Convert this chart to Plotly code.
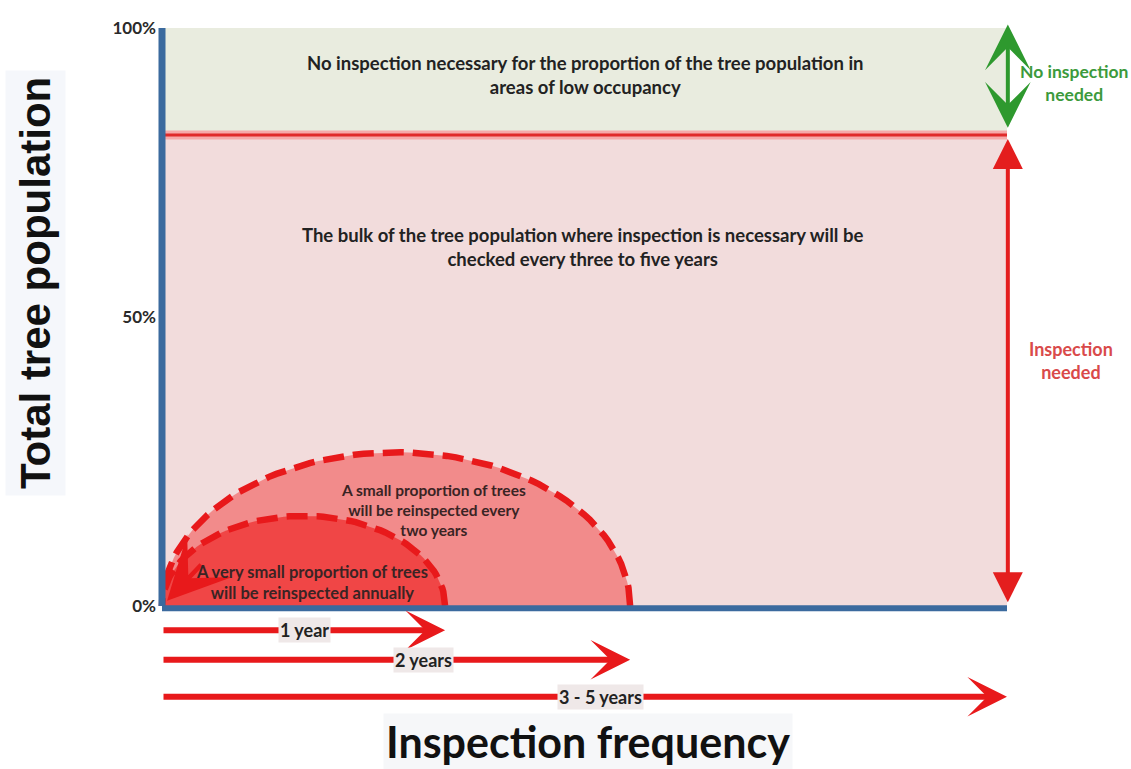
import numpy as np
import plotly.graph_objects as go

# ── Data ─────────────────────────────────────────────────────────
y_tick_vals = [0, 50, 100]
y_tick_text = ["0%", "50%", "100%"]

# share of population (%) : boundary between the two zones
no_inspection_from = 81.5
x_full = 100  # 3 - 5 years cycle end on a 0..100 frequency scale

# reinspection arcs (frequency-scale width, height in %)
arc_names = ["two years", "annually"]
arc_x_end = [55.4, 33.5]
arc_height = [26.6, 15.6]
arc_fill = ["#f28b8b", "#f04646"]

# frequency arrows under the axis
freq_labels = ["1 year", "2 years", "3 - 5 years"]
freq_end = [33.5, 55.4, 100]
freq_y = [-4.2, -9.3, -15.7]
freq_label_x = [16.9, 30.9, 51.9]

RED = "#e8191b"
FONT = "Lato"

# ── Geometry helpers (reference pixels -> data units) ────────────
W, H = 1131, 769
L = 148          # left margin in figure pixels


def x_px(px):
    return (px - 162) / 8.45


def y_px(py):
    return (606 - py) / 5.78


def paper_x(px):
    return (px - L) / (W - L)


fig = go.Figure()

# zones
fig.add_shape(type="rect", x0=0, x1=x_full, y0=no_inspection_from, y1=100,
              fillcolor="#e9ecdf", line_width=0, layer="below")
fig.add_shape(type="rect", x0=0, x1=x_full, y0=0, y1=no_inspection_from,
              fillcolor="#f2dcdc", line_width=0, layer="below")

# boundary line with glow
fig.add_trace(go.Scatter(x=[0, x_full], y=[no_inspection_from] * 2, mode="lines",
                         line=dict(color="#f6a9a9", width=9), hoverinfo="skip"))
fig.add_trace(go.Scatter(x=[0, x_full], y=[no_inspection_from] * 2, mode="lines",
                         line=dict(color="#e02a2a", width=3), hoverinfo="skip"))

# semicircle arcs
theta = np.linspace(0, np.pi, 80)
for name, xe, h, col in zip(arc_names, arc_x_end, arc_height, arc_fill):
    c = xe / 2
    xs = c + c * np.cos(theta)
    ys = h * np.sin(theta)
    fig.add_trace(go.Scatter(x=xs, y=ys, mode="lines", fill="toself", fillcolor=col,
                             line=dict(color=RED, width=6.5, dash="21px,9px"),
                             name=name, hoverinfo="skip"))

# axes lines
fig.add_trace(go.Scatter(x=[0, 0], y=[0, 100], mode="lines",
                         line=dict(color="#3b6a9e", width=7), hoverinfo="skip"))
fig.add_trace(go.Scatter(x=[0, x_full], y=[-0.4, -0.4], mode="lines",
                         line=dict(color="#3b6a9e", width=6), hoverinfo="skip"))

ann = []

# arrow into origin
ann.append(dict(x=0.6, y=0.9, ax=4.8, ay=7.4, xref="x", yref="y", axref="x", ayref="y",
                showarrow=True, arrowhead=3, arrowsize=2.3, arrowwidth=4.5,
                arrowcolor=RED, text=""))

# frequency arrows
for lab, xe, yy, lx in zip(freq_labels, freq_end, freq_y, freq_label_x):
    ann.append(dict(x=xe, y=yy, ax=0, ay=yy, xref="x", yref="y", axref="x", ayref="y",
                    showarrow=True, arrowhead=3, arrowsize=1.1, arrowwidth=6,
                    arrowcolor=RED, text=""))
    ann.append(dict(x=lx, y=yy, text=lab, showarrow=False, bgcolor="#efe8e8",
                    font=dict(family=FONT, size=18, color="#222", weight="bold"),
                    borderpad=1))

# right-hand double arrows
ann.append(dict(x=100.1, y=100.6, ax=100.1, ay=82.5, xref="x", yref="y", axref="x",
                ayref="y", showarrow=True, arrowhead=3, arrowside="end+start",
                arrowsize=1.9, arrowwidth=4, arrowcolor="#2e992e", text=""))
ann.append(dict(x=100.1, y=80.8, ax=100.1, ay=0.4, xref="x", yref="y", axref="x",
                ayref="y", showarrow=True, arrowhead=2, arrowside="end+start",
                arrowsize=1.5, arrowwidth=4, arrowcolor="#e41e1e", text=""))
ann.append(dict(x=x_px(1074), y=y_px(83), text="No inspection<br>needed", showarrow=False,
                font=dict(family=FONT, size=17.5, color="#3c9a3c", weight="bold")))
ann.append(dict(x=x_px(1071), y=y_px(360), text="Inspection<br>needed", showarrow=False,
                font=dict(family=FONT, size=18, color="#d94a4a", weight="bold")))

# zone texts
txt = dict(family=FONT, size=18.5, color="#222", weight="bold")
ann.append(dict(x=x_px(585), y=y_px(75), showarrow=False, font=txt,
                text="No inspection necessary for the proportion of the tree population in"
                     "<br>areas of low occupancy"))
ann.append(dict(x=x_px(582), y=y_px(247), showarrow=False, font=txt,
                text="The bulk of the tree population where inspection is necessary will be"
                     "<br>checked every three to five years"))
ann.append(dict(x=x_px(433), y=y_px(510), showarrow=False,
                font=dict(family=FONT, size=15.5, color="#3a2424", weight="bold"),
                text="A small proportion of trees<br>will be reinspected every<br>two years"))
ann.append(dict(x=x_px(312), y=y_px(582), showarrow=False,
                font=dict(family=FONT, size=16.5, color="#3a2424", weight="bold"),
                text="A very small proportion of trees<br>will be reinspected annually"))

# axis titles
ann.append(dict(x=paper_x(35), y=y_px(283), xref="paper", yref="y", showarrow=False,
                xanchor="center", yanchor="middle",
                textangle=-90, text="Total tree population", bgcolor="#f5f7fb",
                borderpad=6,
                font=dict(family="Liberation Sans", size=42, color="#111", weight="bold")))
ann.append(dict(x=x_px(588), y=y_px(741), showarrow=False, text="Inspection frequency",
                bgcolor="#f6f7f9", borderpad=2,
                font=dict(family=FONT, size=43, color="#111", weight="bold")))

fig.update_layout(
    width=W, height=H,
    margin=dict(l=L, r=0, t=0, b=0),
    paper_bgcolor="white", plot_bgcolor="white",
    showlegend=False,
    annotations=ann,
    xaxis=dict(range=[x_px(L), x_px(W)], visible=False, fixedrange=True),
    yaxis=dict(range=[y_px(H), y_px(0)], tickvals=y_tick_vals,
               ticktext=y_tick_text, showgrid=False, zeroline=False, showline=False,
               ticks="", ticklabelstandoff=-9, fixedrange=True,
               tickfont=dict(family=FONT, size=17, color="#2a2a2a", weight="bold")),
)

fig.write_html("out.html", config={"displayModeBar": False},
               post_script="document.body.style.margin='0';")
